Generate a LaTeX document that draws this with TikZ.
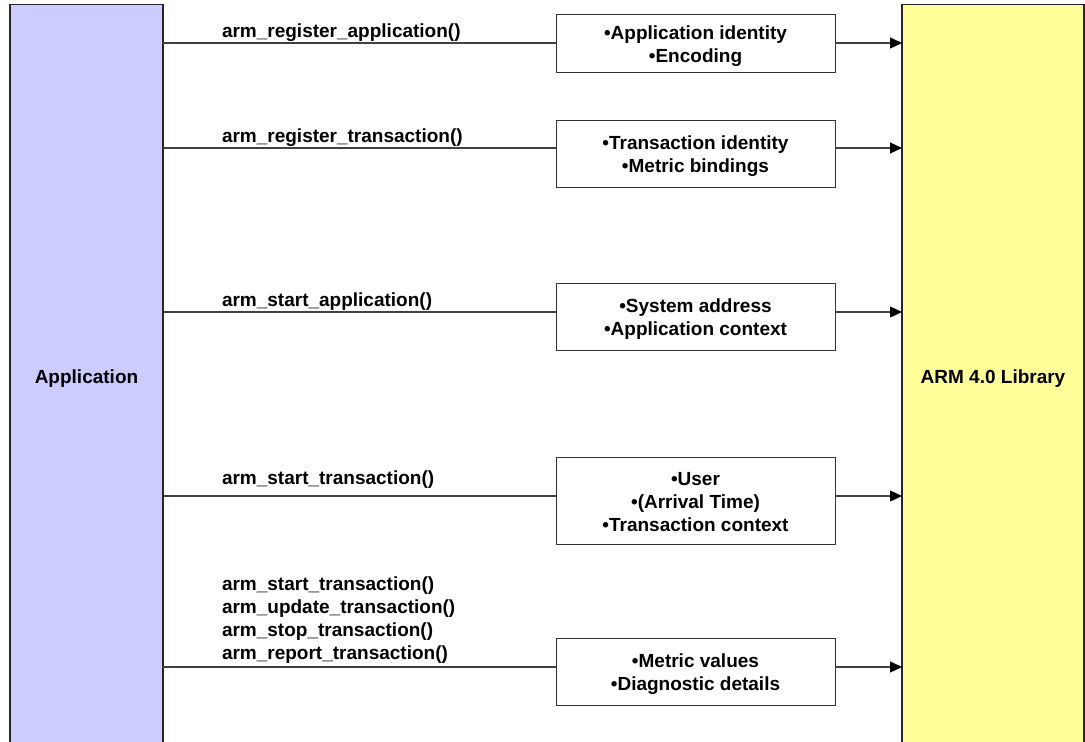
\documentclass[tikz,border=0pt]{standalone}
\usepackage{fontspec}
\setmainfont{Liberation Sans}
\usetikzlibrary{arrows.meta}
\definecolor{appblue}{HTML}{CCCCFF}
\definecolor{libyellow}{HTML}{FFFF99}
% text drawn a little low while keeping its box dimensions for centring
\newcommand{\lowered}[1]{\raisebox{-3pt}[\height][\depth]{#1}}
\newcommand{\boxlines}[1]{\lowered{\begin{tabular}{@{}c@{}}#1\end{tabular}}}
\begin{document}
\begin{tikzpicture}[x=1pt,y=-1pt,
  every node/.style={font=\fontsize{19}{23}\selectfont\bfseries, inner sep=0pt, outer sep=0pt},
  lane/.style={draw=black!85, line width=1.2pt},
  infobox/.style={draw=black!80, line width=1pt, fill=white, minimum width=279pt},
  call/.style={anchor=south west, align=left},
  link/.style={draw=black!75, line width=1.2pt},
  tip/.style={-{Triangle[length=12pt,width=11pt,color=black]}}
]
\useasboundingbox (0,0) rectangle (1085,742);
\clip (0,0) rectangle (1085,742);

% the two end parties
\node[lane, fill=appblue, minimum width=153pt, minimum height=743pt] (app) at (86.5,376) {\lowered{Application}};
\node[lane, fill=libyellow, minimum width=182pt, minimum height=743pt] (lib) at (993,376) {\lowered{ARM 4.0 Library}};

% data passed with each group of calls
\node[infobox, minimum height=58pt] (b1) at (695.5,43) {\boxlines{•Application identity\\•Encoding}};
\node[infobox, minimum height=67pt] (b2) at (695.5,153.5) {\boxlines{•Transaction identity\\•Metric bindings}};
\node[infobox, minimum height=67pt] (b3) at (695.5,316.5) {\boxlines{•System address\\•Application context}};
\node[infobox, minimum height=87pt] (b4) at (695.5,500.5) {\boxlines{•User\\•(Arrival Time)\\•Transaction context}};
\node[infobox, minimum height=67pt] (b5) at (695.5,671.5) {\boxlines{•Metric values\\•Diagnostic details}};

% rows of the connectors
\coordinate (r1) at (0,43);
\coordinate (r2) at (0,148);
\coordinate (r3) at (0,312);
\coordinate (r4) at (0,496);
\coordinate (r5) at (0,667);

\foreach \i in {1,...,5}{
  \draw[link] (app.east |- r\i) -- (b\i.west |- r\i);
  \draw[link, tip] (b\i.east |- r\i) -- (lib.west |- r\i);
}

% API calls
\node[call] (c1) at (222,42) {arm\_register\_application()};
\node[call] (c2) at (222,147) {arm\_register\_transaction()};
\node[call] (c3) at (222,310) {arm\_start\_application()};
\node[call] (c4) at (222,488) {arm\_start\_transaction()};
\node[call] (c5) at (222,663) {arm\_start\_transaction()\\arm\_update\_transaction()\\arm\_stop\_transaction()\\arm\_report\_transaction()};
\end{tikzpicture}
\end{document}
